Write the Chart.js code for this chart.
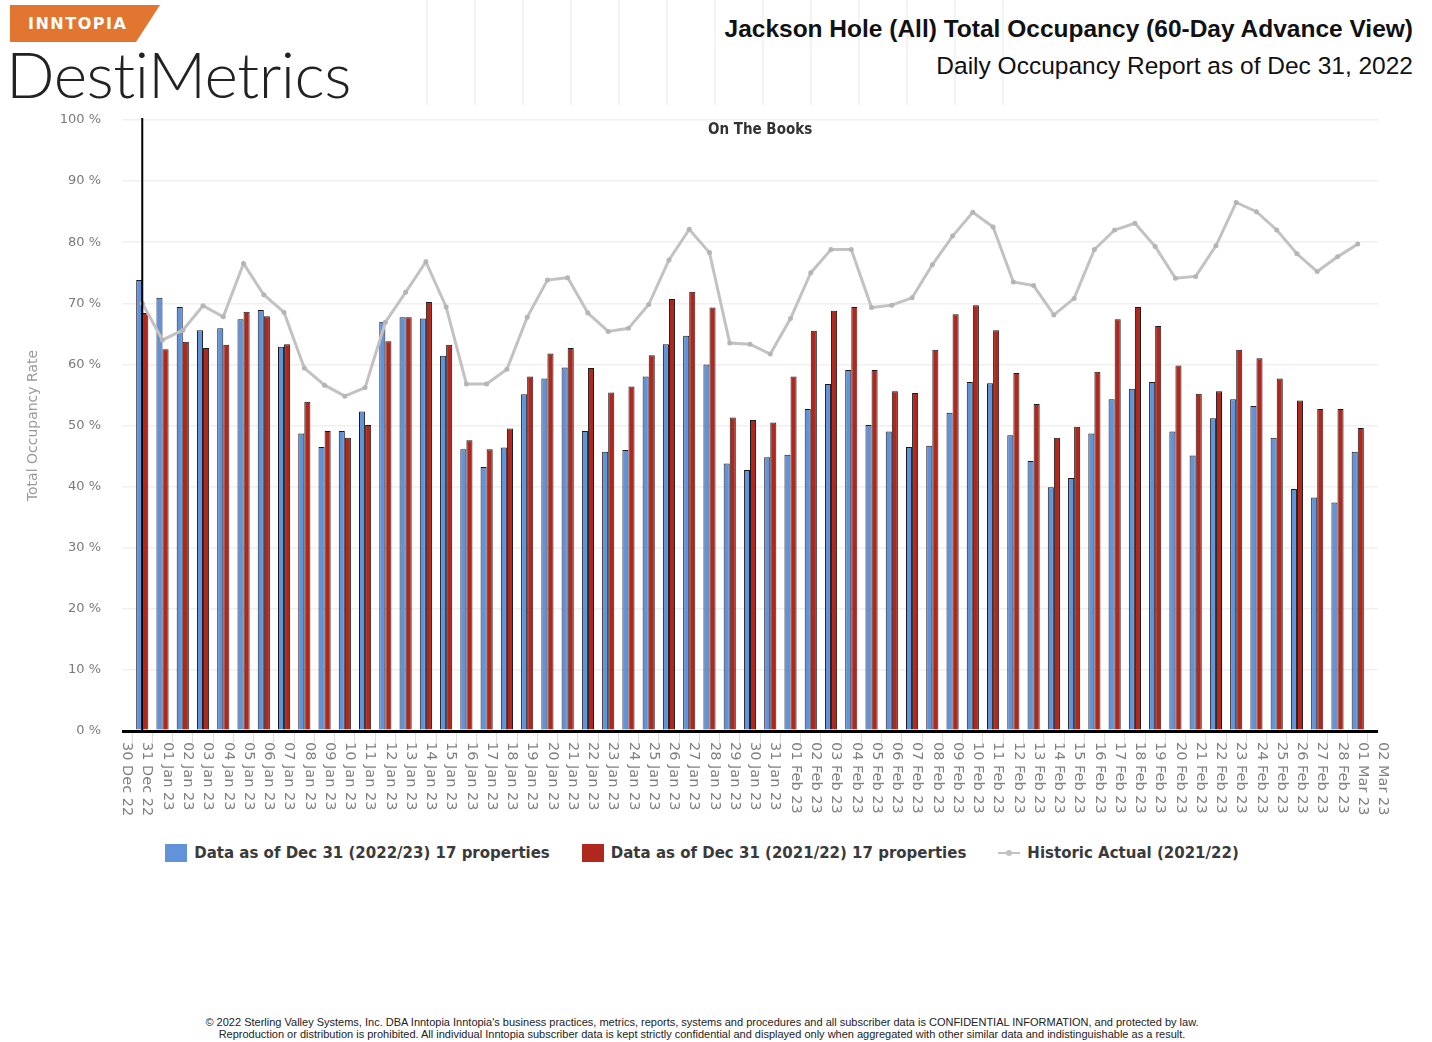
<!DOCTYPE html>
<html>
<head>
<meta charset="utf-8">
<script src="https://cdn.jsdelivr.net/npm/chart.js@4/dist/chart.umd.min.js"></script>
<style>
  html, body { margin: 0; padding: 0; background: #fff; }
  body { width: 1432px; height: 1042px; position: relative; overflow: hidden; font-family: "Liberation Sans", Arial, sans-serif; }
  #deco { position: absolute; left: 380px; top: 0; width: 640px; height: 105px;
    background: repeating-linear-gradient(90deg, transparent 0 46px, #f3f3f3 46px 48px); }
  #logo-tag { position: absolute; left: 10px; top: 5px; width: 150px; height: 37px; background: #e2752f;
    clip-path: polygon(0 0, 100% 0, 84% 100%, 0 100%); }
  #logo-tag span { position: absolute; left: 18px; top: 9px; color: #fff; font: bold 16px "DejaVu Sans", sans-serif; letter-spacing: 1.5px; }
  #logo { position: absolute; left: 6px; top: 35px; font: 300 64px Lato, "Open Sans", sans-serif; color: #222; letter-spacing: -0.5px; }
  #title { position: absolute; right: 19px; top: 15px; font: bold 24.5px "Liberation Sans", Arial, sans-serif; color: #111; }
  #subtitle { position: absolute; right: 19px; top: 52px; font: 24.5px "Liberation Sans", Arial, sans-serif; color: #111; }
  #wrap { position: absolute; left: 0; top: 0; width: 1432px; height: 840px; }
  #legend { position: absolute; left: 0; top: 844px; width: 1404px; display: flex; justify-content: center; align-items: center;
    font: bold 15px "DejaVu Sans", sans-serif; color: #3a3a3a; }
  #legend .item { display: flex; align-items: center; margin: 0 16px; }
  #legend .box { width: 22px; height: 18px; margin-right: 7px; }
  #legend .ln { width: 22px; height: 2px; margin-right: 7px; position: relative; }
  #legend .ln::after { content: ""; position: absolute; left: 8px; top: -2px; width: 6px; height: 6px; border-radius: 50%; background: inherit; }
  #footer { position: absolute; left: 0; width: 1404px; top: 1016px; text-align: center;
    font: 11px "Liberation Sans Narrow", "Liberation Sans", sans-serif; color: #222; line-height: 12px; }
</style>
</head>
<body>
<div id="deco"></div>
<div id="logo-tag"><span>INNTOPIA</span></div>
<div id="logo">DestiMetrics</div>
<div id="title">Jackson Hole (All) Total Occupancy (60-Day Advance View)</div>
<div id="subtitle">Daily Occupancy Report as of Dec 31, 2022</div>
<div id="wrap"><canvas id="chart"></canvas></div>
<div id="legend"></div>
<div id="footer">© 2022 Sterling Valley Systems, Inc. DBA Inntopia Inntopia's business practices, metrics, reports, systems and procedures and all subscriber data is CONFIDENTIAL INFORMATION, and protected by law.<br>Reproduction or distribution is prohibited. All individual Inntopia subscriber data is kept strictly confidential and displayed only when aggregated with other similar data and indistinguishable as a result.</div>
<script>
// 30 Dec 22 .. 02 Mar 23; first and last day carry no data (axis ends)
const dayLabels = [
  "30 Dec 22", "31 Dec 22",
  "01 Jan 23", "02 Jan 23", "03 Jan 23", "04 Jan 23", "05 Jan 23", "06 Jan 23", "07 Jan 23", "08 Jan 23",
  "09 Jan 23", "10 Jan 23", "11 Jan 23", "12 Jan 23", "13 Jan 23", "14 Jan 23", "15 Jan 23", "16 Jan 23",
  "17 Jan 23", "18 Jan 23", "19 Jan 23", "20 Jan 23", "21 Jan 23", "22 Jan 23", "23 Jan 23", "24 Jan 23",
  "25 Jan 23", "26 Jan 23", "27 Jan 23", "28 Jan 23", "29 Jan 23", "30 Jan 23", "31 Jan 23",
  "01 Feb 23", "02 Feb 23", "03 Feb 23", "04 Feb 23", "05 Feb 23", "06 Feb 23", "07 Feb 23", "08 Feb 23",
  "09 Feb 23", "10 Feb 23", "11 Feb 23", "12 Feb 23", "13 Feb 23", "14 Feb 23", "15 Feb 23", "16 Feb 23",
  "17 Feb 23", "18 Feb 23", "19 Feb 23", "20 Feb 23", "21 Feb 23", "22 Feb 23", "23 Feb 23", "24 Feb 23",
  "25 Feb 23", "26 Feb 23", "27 Feb 23", "28 Feb 23",
  "01 Mar 23", "02 Mar 23"
];

const occ2223 = [
  null, 73.8,
  70.9, 69.4, 65.6, 65.9, 67.4, 68.9, 62.9, 48.7, 46.5, 49.1, 52.3, 67.0, 67.7, 67.5, 61.4, 46.1,
  43.2, 46.4, 55.1, 57.7, 59.5, 49.1, 45.7, 46.0, 58.0, 63.3, 64.7, 60.0, 43.8, 42.7, 44.8,
  45.2, 52.7, 56.8, 59.1, 50.1, 49.0, 46.5, 46.7, 52.1, 57.1, 56.9, 48.4, 44.2, 39.9, 41.4, 48.7,
  54.3, 56.0, 57.1, 49.0, 45.1, 51.2, 54.3, 53.2, 48.0, 39.6, 38.2, 37.4,
  45.7, null
];

const occ2122 = [
  null, 68.4,
  62.5, 63.7, 62.7, 63.2, 68.6, 67.9, 63.3, 53.9, 49.1, 48.0, 50.1, 63.8, 67.7, 70.2, 63.2, 47.6,
  46.1, 49.5, 58.0, 61.8, 62.7, 59.4, 55.4, 56.4, 61.5, 70.7, 71.9, 69.3, 51.3, 50.9, 50.5,
  58.0, 65.5, 68.8, 69.4, 59.1, 55.6, 55.3, 62.4, 68.2, 69.7, 65.6, 58.6, 53.5, 48.0, 49.8, 58.8,
  67.4, 69.4, 66.3, 59.8, 55.2, 55.6, 62.4, 61.0, 57.7, 54.1, 52.7, 52.7,
  49.6, null
];

const historic2122 = [
  null, 70.0,
  64.0, 65.6, 69.6, 67.8, 76.5, 71.4, 68.5, 59.4, 56.6, 54.8, 56.2, 66.9, 71.8, 76.8, 69.4, 56.8,
  56.8, 59.2, 67.7, 73.8, 74.2, 68.4, 65.4, 65.9, 69.8, 77.1, 82.1, 78.3, 63.5, 63.3, 61.7,
  67.5, 75.0, 78.8, 78.8, 69.3, 69.7, 70.9, 76.3, 81.0, 84.9, 82.5, 73.5, 72.9, 68.1, 70.8, 78.8,
  82.0, 83.1, 79.3, 74.1, 74.4, 79.4, 86.5, 85.0, 82.0, 78.1, 75.2, 77.6,
  79.7, null
];

const reportDay = "31 Dec 22";
const yTicks = [0, 10, 20, 30, 40, 50, 60, 70, 80, 90, 100];

const BLUE = "#6192da";
const RED = "#b0281d";
const GREY = "#c2c2c2";

// x labels read top-to-bottom, plus the "as of" marker and the inner title
const decorations = {
  id: "decorations",
  afterDatasetsDraw(chart) {
    const { ctx, chartArea, scales } = chart;
    const x = scales.x.getPixelForValue(dayLabels.indexOf(reportDay));
    ctx.save();
    ctx.strokeStyle = "#000";
    ctx.lineWidth = 2;
    ctx.beginPath();
    ctx.moveTo(x, chartArea.top - 2);
    ctx.lineTo(x, chartArea.bottom);
    ctx.stroke();
    ctx.restore();
  },
  afterDraw(chart) {
    const { ctx, chartArea, scales } = chart;
    ctx.save();
    ctx.fillStyle = "#808080";
    ctx.font = "14.5px 'DejaVu Sans'";
    ctx.textAlign = "left";
    ctx.textBaseline = "middle";
    dayLabels.forEach((lab, i) => {
      const px = scales.x.getPixelForValue(i);
      ctx.save();
      ctx.translate(px + 5, chartArea.bottom + 11);
      ctx.rotate(Math.PI / 2);
      ctx.fillText(lab, 0, 0);
      ctx.restore();
    });

    ctx.fillStyle = "#333";
    ctx.font = "bold 15px 'DejaVu Sans Condensed', 'DejaVu Sans'";
    ctx.textAlign = "center";
    ctx.fillText("On The Books", chartArea.left + chartArea.width * 0.508, chartArea.top + 10);

    ctx.fillStyle = "#9a9a9a";
    ctx.font = "14px 'DejaVu Sans'";
    ctx.translate(33, (chartArea.top + chartArea.bottom) / 2);
    ctx.rotate(-Math.PI / 2);
    ctx.fillText("Total Occupancy Rate", 0, 0);
    ctx.restore();
  },
};

const datasets = [
  {
    type: "bar", label: "Data as of Dec 31 (2022/23) 17 properties", data: occ2223,
    backgroundColor: BLUE, borderColor: "#1a1a1a", borderWidth: 1, order: 2,
    categoryPercentage: 0.6, barPercentage: 1.0,
  },
  {
    type: "bar", label: "Data as of Dec 31 (2021/22) 17 properties", data: occ2122,
    backgroundColor: RED, borderColor: "#1a1a1a", borderWidth: 1, order: 2,
    categoryPercentage: 0.6, barPercentage: 1.0,
  },
  {
    type: "line", label: "Historic Actual (2021/22)", data: historic2122,
    borderColor: GREY, backgroundColor: "#b5b5b5", borderWidth: 3, tension: 0,
    pointRadius: 2.5, pointBorderWidth: 0, order: 1, spanGaps: false,
  },
];

const chart = new Chart(document.getElementById("chart").getContext("2d"), {
  data: { labels: dayLabels, datasets },
  plugins: [decorations],
  options: {
    responsive: true,
    maintainAspectRatio: false,
    animation: false,
    layout: { padding: { top: 120, right: 54, left: 0, bottom: 9 } },
    plugins: { legend: { display: false }, tooltip: { enabled: false } },
    scales: {
      x: {
        type: "category",
        offset: false,
        ticks: { display: false },
        grid: { display: true, drawOnChartArea: false, drawTicks: true, tickLength: 12, color: "#dcdcdc" },
        border: { display: false },
        afterFit: (s) => { s.height = 100; },
      },
      y: {
        min: 0, max: 100,
        afterBuildTicks: (s) => { s.ticks = yTicks.map((v) => ({ value: v })); },
        ticks: { callback: (v) => v + " %", color: "#7a7a7a", font: { family: "DejaVu Sans", size: 13 }, padding: 21 },
        grid: {
          drawTicks: false,
          color: (c) => (c.tick && c.tick.value === 0 ? "#000" : "#f0f0f0"),
          lineWidth: (c) => (c.tick && c.tick.value === 0 ? 3 : 1.5),
        },
        border: { display: false },
        afterFit: (s) => { s.width = 122; },
      },
    },
  },
});

// legend as html, built from the datasets
const leg = document.getElementById("legend");
chart.data.datasets.forEach((ds) => {
  const item = document.createElement("div");
  item.className = "item";
  const mark = document.createElement("span");
  mark.className = ds.type === "line" ? "ln" : "box";
  mark.style.background = ds.type === "line" ? GREY : ds.backgroundColor;
  const txt = document.createElement("span");
  txt.textContent = ds.label;
  item.appendChild(mark);
  item.appendChild(txt);
  leg.appendChild(item);
});
</script>
</body>
</html>
